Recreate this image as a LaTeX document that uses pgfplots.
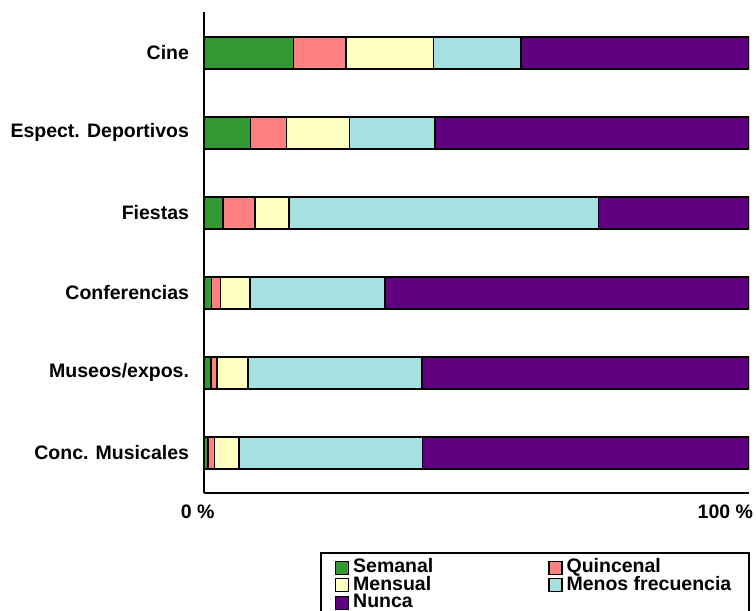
\documentclass[border=0pt]{standalone}
\usepackage{pgfplots}
\pgfplotsset{compat=1.18}
\usepackage{fontspec}
\setmainfont{Liberation Sans}
\definecolor{cSem}{HTML}{339933}
\definecolor{cQui}{HTML}{FF8080}
\definecolor{cMen}{HTML}{FFFFC0}
\definecolor{cMf}{HTML}{A6E0E0}
\definecolor{cNun}{HTML}{600080}
\newcommand{\lblfont}{\bfseries\fontsize{19.5}{17}\selectfont}
\begin{document}
\begin{tikzpicture}
\begin{axis}[
  at={(0pt,0pt)}, anchor=south west,
  scale only axis, width=545pt, height=481pt,
  xbar stacked, bar width=32pt,
  xmin=0, xmax=100, ymin=-0.5, ymax=5.51,
  axis x line=bottom, axis y line=left,
  axis line style={-, line width=2pt, black},
  major tick length=0pt,
  ytick={0,1,2,3,4,5},
  yticklabels={Conc. Musicales, Museos/expos., Conferencias, Fiestas, Espect. Deportivos, Cine},
  yticklabel style={font=\lblfont, xshift=-11.5pt},
  xtick={0,100},
  xticklabels={\makebox[0pt][l]{\hspace*{-23pt}0 \%}, \makebox[0pt][r]{100 \%\hspace*{-4pt}}},
  xticklabel style={font=\lblfont, yshift=-8pt},
  every axis plot/.append style={draw=black, line width=1.5pt},
  legend columns=2,
  legend cell align=left,
  legend image code/.code={\draw[#1, line width=1.2pt, draw=black] (0pt,-6.5pt) rectangle (13pt,6.5pt);},
  legend style={at={(0.2128,-0.1227)}, anchor=north west, draw=black, line width=2pt,
    font=\lblfont, inner xsep=14pt, inner ysep=6pt,
    nodes={text height=13pt, text depth=3.5pt, inner ysep=0.5pt, inner xsep=4pt},
    /tikz/every even column/.append style={column sep=111pt}},
]
\addplot[fill=cSem] coordinates {(0.7,0) (1.3,1) (1.4,2) (3.5,3) (8.5,4) (16.4,5)};
\addplot[fill=cQui] coordinates {(1.2,0) (1.1,1) (1.6,2) (5.9,3) (6.6,4) (9.7,5)};
\addplot[fill=cMen] coordinates {(4.5,0) (5.7,1) (5.4,2) (6.2,3) (11.6,4) (16.0,5)};
\addplot[fill=cMf] coordinates {(33.7,0) (31.9,1) (24.8,2) (56.8,3) (15.7,4) (16.1,5)};
\addplot[fill=cNun] coordinates {(59.9,0) (60.0,1) (66.8,2) (27.6,3) (57.6,4) (41.8,5)};
\legend{Semanal, Quincenal, Mensual, Menos frecuencia, Nunca}
\end{axis}
\pgfresetboundingbox
\useasboundingbox (-204pt,-118pt) rectangle (552pt,493pt);
\end{tikzpicture}
\end{document}
